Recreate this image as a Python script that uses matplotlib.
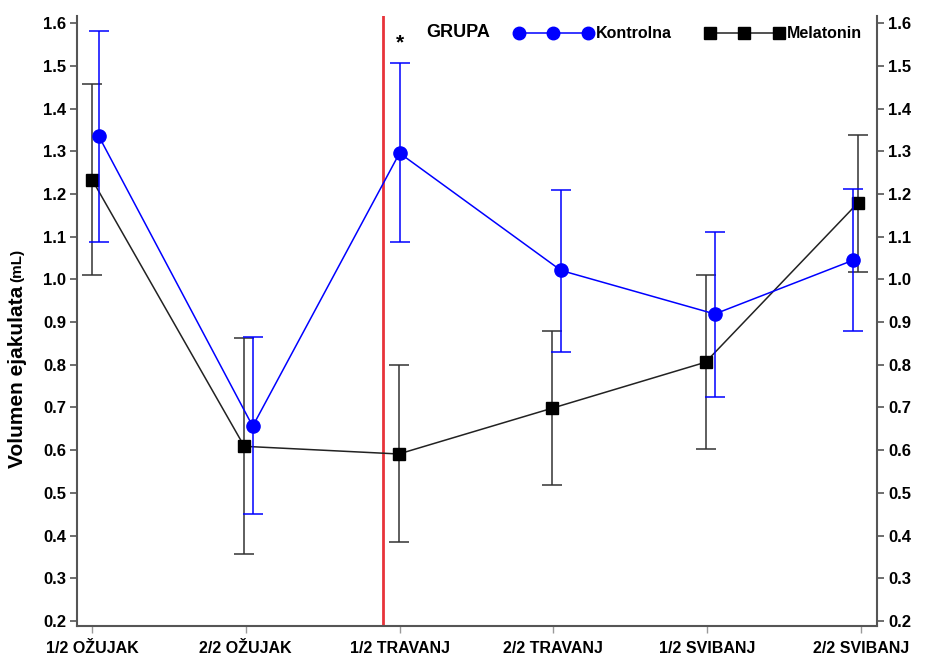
import numpy as np
import matplotlib.pyplot as plt
from matplotlib.lines import Line2D

# ── Data ─────────────────────────────────────────────────────────────────────
periods = ["1/2 OŽUJAK", "2/2 OŽUJAK", "1/2 TRAVANJ",
           "2/2 TRAVANJ", "1/2 SVIBANJ", "2/2 SVIBANJ"]

kontrolna_mean = [1.335, 0.656, 1.296, 1.021, 0.919, 1.045]
kontrolna_low  = [1.088, 0.450, 1.088, 0.829, 0.724, 0.880]
kontrolna_high = [1.582, 0.866, 1.506, 1.210, 1.112, 1.212]

melatonin_mean = [1.234, 0.609, 0.591, 0.698, 0.806, 1.179]
melatonin_low  = [1.010, 0.357, 0.384, 0.518, 0.602, 1.018]
melatonin_high = [1.457, 0.863, 0.799, 0.880, 1.010, 1.339]

# small horizontal dodge per point, as in the original
kontrolna_dodge = [0.045, 0.045, 0.0, 0.05, 0.05, -0.05]
melatonin_dodge = [0.0, -0.01, -0.005, -0.01, -0.01, -0.02]

marker_line = 1.89      # red vertical line between periods
star_at = 2             # significant difference

# ── Style ────────────────────────────────────────────────────────────────────
BLUE = "#0000ff"
DARK = "#222222"
SPINE = "#555555"
RED = "#e8333a"

plt.rcParams["font.family"] = ["Liberation Sans", "DejaVu Sans"]
plt.rcParams["font.weight"] = "bold"

fig = plt.figure(figsize=(9.29, 6.63), dpi=100)
ax = fig.add_axes([0.0829, 0.0558, 0.861, 0.920])

x = np.arange(len(periods))
xk = x + np.array(kontrolna_dodge)
xm = x + np.array(melatonin_dodge)

km = np.array(kontrolna_mean)
mm = np.array(melatonin_mean)
k_err = [km - np.array(kontrolna_low), np.array(kontrolna_high) - km]
m_err = [mm - np.array(melatonin_low), np.array(melatonin_high) - mm]

ax.axvline(marker_line, color=RED, lw=2.0, zorder=1)

ax.errorbar(xm, mm, yerr=m_err, color=DARK, ecolor="#333333", lw=1.1,
            elinewidth=1.1, capsize=7, capthick=1.1, marker="s", ms=8,
            mfc="black", mec="black", zorder=3, label="Melatonin")
ax.errorbar(xk, km, yerr=k_err, color=BLUE, ecolor=BLUE, lw=1.1,
            elinewidth=1.1, capsize=7, capthick=1.1, marker="o", ms=9.5,
            mfc=BLUE, mec=BLUE, zorder=4, label="Kontrolna")

ax.text(xk[star_at], kontrolna_high[star_at] + 0.025, "*", ha="center",
        va="bottom", fontsize=15, fontweight="bold")

ax.set_xlim(-0.0975, 5.104)
ax.set_ylim(0.188, 1.617)
ax.set_yticks(np.arange(0.2, 1.61, 0.1))
ax.set_yticklabels([f"{v:.1f}" for v in np.arange(0.2, 1.61, 0.1)])
ax.set_xticks(x)
ax.set_xticklabels(periods)

for side in ["left", "right", "bottom"]:
    ax.spines[side].set_color(SPINE)
    ax.spines[side].set_linewidth(1.5)
ax.spines["top"].set_visible(False)

ax.tick_params(axis="y", which="both", left=True, right=True, labelleft=True,
               labelright=True, direction="out", length=5, width=1.2,
               color=SPINE, labelsize=12, pad=3)
ax.tick_params(axis="x", direction="out", length=5, width=1.0, color="#999999",
               labelsize=11.5, pad=6)

ylab = fig.text(0.019, 0.294, "Volumen ejakulata", rotation=90,
                ha="center", va="bottom", fontsize=15, fontweight="bold")
ax.annotate("(mL)", xy=(0.5, 1.0), xycoords=ylab, xytext=(0, 3),
            textcoords="offset points", rotation=90, ha="center", va="bottom",
            fontsize=11, fontweight="bold")

# ── Legend ───────────────────────────────────────────────────────────────────
fig.text(0.459, 0.951, "GRUPA", ha="left", va="center", fontsize=13,
         fontweight="bold")
handles = [Line2D([], [], color=BLUE, lw=1.1, marker="o", ms=9, mfc=BLUE, mec=BLUE),
           Line2D([], [], color=DARK, lw=1.1, marker="s", ms=8, mfc="black", mec="black")]
fig.legend(handles, ["Kontrolna", "Melatonin"], loc="center left",
           bbox_to_anchor=(0.538, 0.949), ncol=2, numpoints=3, frameon=False,
           handlelength=4.9, handletextpad=0.2, columnspacing=2.1,
           prop={"size": 11.5, "weight": "bold"})

fig.savefig("out.png", dpi=100)
